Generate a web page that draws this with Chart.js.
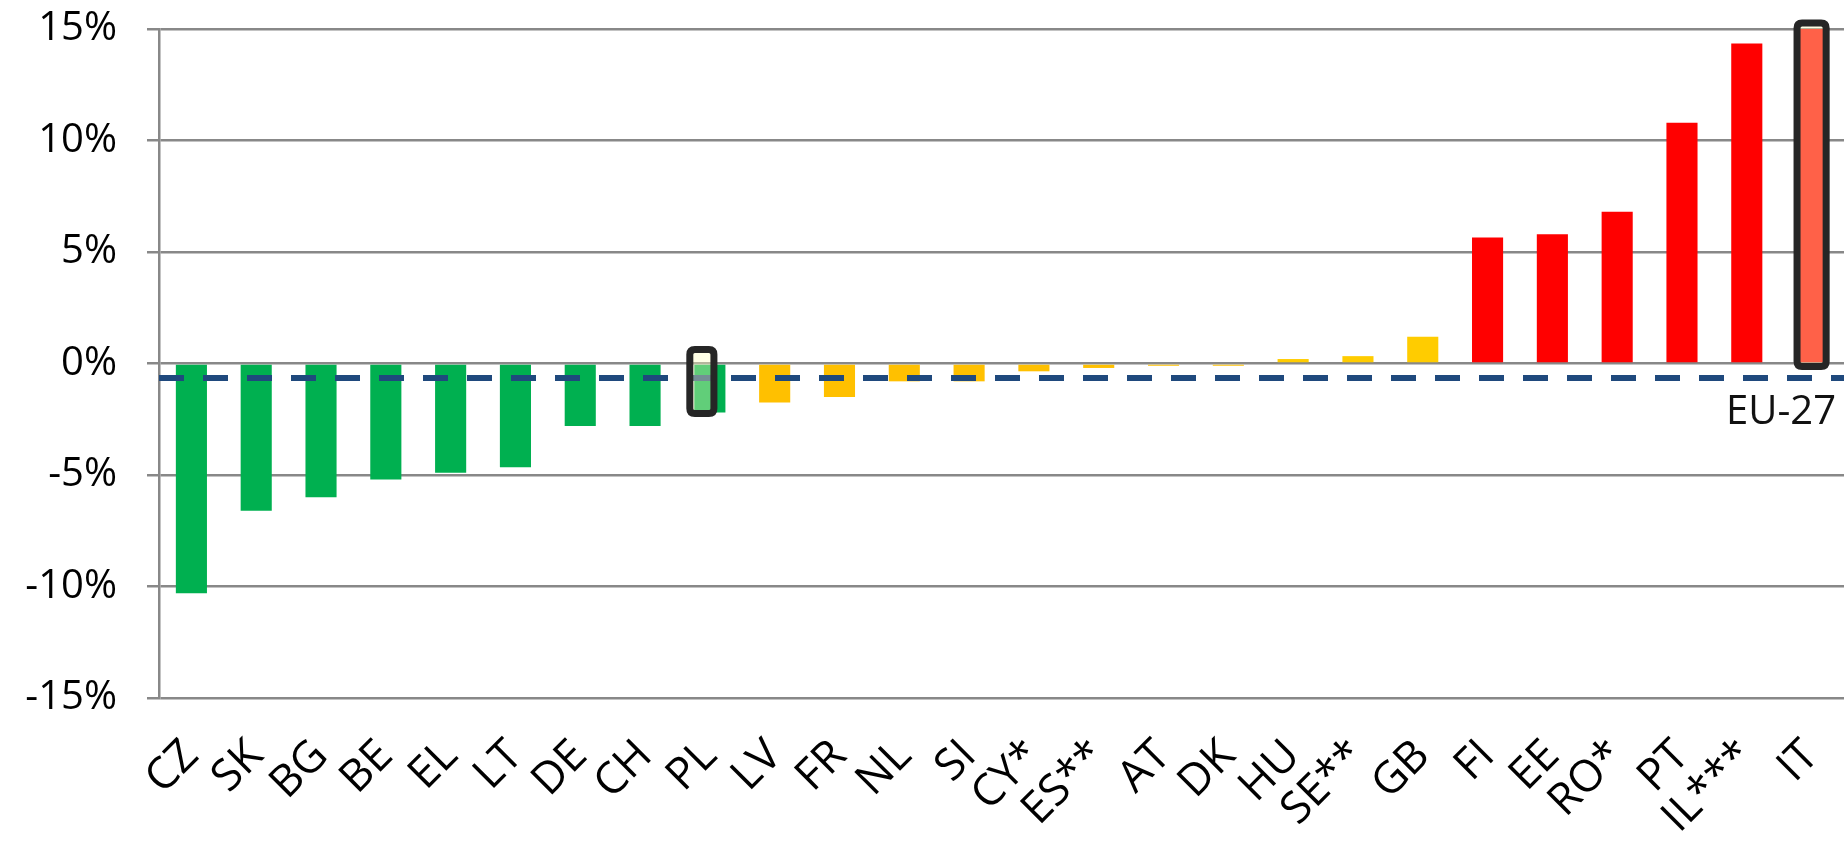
<!DOCTYPE html>
<html>
<head>
<meta charset="utf-8">
<script src="https://cdn.jsdelivr.net/npm/chart.js@4"></script>
<style>
  html, body { margin: 0; padding: 0; background: #fff; }
  #wrap { width: 1848px; height: 854px; }
</style>
</head>
<body>
<div id="wrap"><canvas id="c" width="1848" height="854"></canvas></div>
<script>
// ---- data ----
const categories = ['CZ','SK','BG','BE','EL','LT','DE','CH','PL','LV','FR','NL','SI','CY*','ES**','AT','DK','HU','SE**','GB','FI','EE','RO*','PT','IL***','IT'];
const values = [-10.3,-6.6,-6.0,-5.2,-4.9,-4.65,-2.8,-2.8,-2.2,-1.75,-1.5,-0.8,-0.8,-0.35,-0.2,-0.1,-0.1,0.2,0.33,1.2,5.65,5.8,6.8,10.8,14.35,15.0];
const barGroups = ['g','g','g','g','g','g','g','g','g','y','y','y','y','y','y','y','y','y2','y2','y2','r','r','r','r','r','r'];
const euAverage = -0.65;
const euLabel = 'EU-27';
const highlighted = ['PL','IT'];
const yTicks = [-15,-10,-5,0,5,10,15];

const groupColors = { g: '#00b050', y: '#ffc000', y2: '#ffcc00', r: '#ff0000' };
const FONT = "'Open Sans', 'DejaVu Sans', sans-serif";

// per-highlight box geometry tweaks (pixels)
const boxStyle = {
  PL: { dl: -4.5, dr: -11.5, zeroPad: 14, valPad: 1 },
  IT: { dl: 1, dr: -1, zeroPad: 3, valPad: 6 }
};

function roundRect(ctx, x, y, w, h, r) {
  ctx.beginPath();
  ctx.moveTo(x + r, y);
  ctx.lineTo(x + w - r, y);
  ctx.quadraticCurveTo(x + w, y, x + w, y + r);
  ctx.lineTo(x + w, y + h - r);
  ctx.quadraticCurveTo(x + w, y + h, x + w - r, y + h);
  ctx.lineTo(x + r, y + h);
  ctx.quadraticCurveTo(x, y + h, x, y + h - r);
  ctx.lineTo(x, y + r);
  ctx.quadraticCurveTo(x, y, x + r, y);
  ctx.closePath();
}

const overlayPlugin = {
  id: 'overlay',
  afterDatasetsDraw(chart) {
    const { ctx, chartArea, scales: { x, y } } = chart;
    const yEU = y.getPixelForValue(euAverage);
    ctx.save();
    ctx.strokeStyle = '#1f497d';
    ctx.lineWidth = 6;
    ctx.setLineDash([25, 19]);
    ctx.beginPath();
    ctx.moveTo(chartArea.left, yEU);
    ctx.lineTo(chartArea.right, yEU);
    ctx.stroke();
    ctx.restore();

    ctx.save();
    ctx.font = "40px " + FONT;
    ctx.fillStyle = '#111';
    ctx.textAlign = 'right';
    ctx.textBaseline = 'top';
    ctx.fillText(euLabel, chartArea.right - 8, yEU + 15);
    ctx.restore();

    const meta = chart.getDatasetMeta(0);
    const y0 = y.getPixelForValue(0);
    highlighted.forEach(lbl => {
      const i = categories.indexOf(lbl);
      const bar = meta.data[i];
      const s = boxStyle[lbl];
      const half = bar.width / 2;
      const left = bar.x - half + s.dl;
      const right = bar.x + half + s.dr;
      const v = values[i];
      let top, bottom;
      if (v >= 0) { top = bar.y - s.valPad; bottom = y0 + s.zeroPad; }
      else { top = y0 - s.zeroPad; bottom = bar.y + s.valPad; }
      ctx.save();
      roundRect(ctx, left, top, right - left, bottom - top, 5);
      ctx.fillStyle = 'rgba(255,255,190,0.38)';
      ctx.fill();
      ctx.lineWidth = 7;
      ctx.strokeStyle = '#262626';
      ctx.stroke();
      ctx.restore();
    });
  }
};

new Chart(document.getElementById('c'), {
  type: 'bar',
  data: {
    labels: categories,
    datasets: [{
      data: values,
      backgroundColor: barGroups.map(g => groupColors[g]),
      borderWidth: 0,
      categoryPercentage: 1.0,
      barPercentage: 0.48
    }]
  },
  options: {
    responsive: false,
    animation: false,
    devicePixelRatio: 1,
    layout: { padding: { top: 29, right: 4, left: 0, bottom: 0 } },
    plugins: { legend: { display: false }, tooltip: { enabled: false } },
    scales: {
      x: {
        offset: true,
        grid: { display: false },
        border: { display: false },
        ticks: {
          autoSkip: false,
          maxRotation: 45,
          minRotation: 45,
          padding: 24,
          color: '#000',
          font: { family: FONT, size: 44 }
        },
        afterFit(scale) {
          scale.height = 156;
          scale.paddingLeft = 0; scale.paddingRight = 0;
        }
      },
      y: {
        min: -15,
        max: 15,
        afterBuildTicks(scale) { scale.ticks = yTicks.map(v => ({ value: v })); },
        grid: { color: '#888888', lineWidth: 2.5, tickLength: 12, drawTicks: true },
        border: { display: true, color: '#888888', width: 2.5 },
        ticks: {
          padding: 30,
          color: '#000',
          font: { family: FONT, size: 40 },
          callback: v => v + '%'
        },
        afterFit(scale) {
          scale.width = 159;
          scale.paddingTop = 0; scale.paddingBottom = 0;
        }
      }
    }
  },
  plugins: [overlayPlugin]
});
</script>
</body>
</html>
